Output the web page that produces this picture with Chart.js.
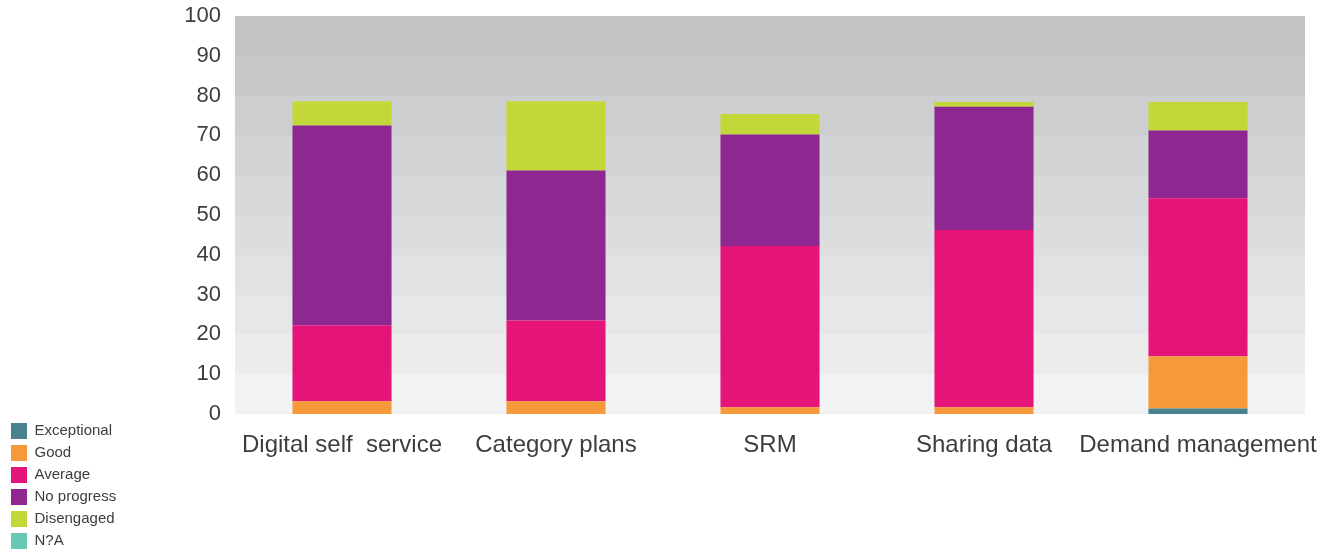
<!DOCTYPE html>
<html>
<head>
<meta charset="utf-8">
<script src="https://cdn.jsdelivr.net/npm/chart.js@4"></script>
<style>
  html, body { margin: 0; padding: 0; background: #fff; }
  #wrap { width: 1333px; height: 549px; position: relative; }
</style>
</head>
<body>
<div id="wrap"><canvas id="progress-chart"></canvas></div>
<script>
// categories along the x axis
const categories = ['Digital self  service', 'Category plans', 'SRM', 'Sharing data', 'Demand management'];

// series values, stacked from the bottom up
const exceptional = [0, 0, 0, 0, 1.4];
const good = [3.2, 3.2, 1.7, 1.7, 13.1];
const average = [19.1, 20.3, 40.5, 44.5, 39.7];
const noProgress = [50.2, 37.7, 28.0, 31.0, 17.0];
const disengaged = [6.1, 17.4, 5.2, 1.2, 7.2];
const notApplicable = [0, 0, 0, 0, 0];

// y axis ticks
const yTicks = [0, 10, 20, 30, 40, 50, 60, 70, 80, 90, 100];

// grey shading for each 10-point band, bottom band first
const bandColors = ['#f1f2f4', '#ececed', '#e6e7e9', '#e1e2e4', '#dcdddf',
                    '#d7d8da', '#d2d3d5', '#cdced0', '#c7c8ca', '#c2c3c5'];

// paint the horizontal bands behind the bars, snapped to whole pixels
const bandPlugin = {
  id: 'bands',
  beforeDatasetsDraw(chart) {
    const {ctx, chartArea, scales} = chart;
    const y = scales.y;
    const left = Math.round(chartArea.left);
    const right = Math.round(chartArea.right);
    ctx.save();
    for (let i = 0; i < yTicks.length - 1; i++) {
      const top = Math.round(y.getPixelForValue(yTicks[i + 1]));
      const bottom = Math.round(y.getPixelForValue(yTicks[i]));
      ctx.fillStyle = bandColors[i];
      ctx.fillRect(left, top, right - left, bottom - top);
    }
    ctx.restore();
  }
};

const series = [
  {label: 'Exceptional', data: exceptional, color: '#47828e'},
  {label: 'Good', data: good, color: '#f6993a'},
  {label: 'Average', data: average, color: '#e41479'},
  {label: 'No progress', data: noProgress, color: '#8e278f'},
  {label: 'Disengaged', data: disengaged, color: '#c3d838'},
  {label: 'N?A', data: notApplicable, color: '#69c7b5'}
];

const textColor = '#3d3d3d';
const fontFamily = '"Liberation Sans", Arial, Helvetica, sans-serif';

let barChart = new Chart(document.getElementById('progress-chart'), {
  type: 'bar',
  data: {
    labels: categories,
    datasets: series.map(s => ({
      label: s.label,
      data: s.data,
      backgroundColor: s.color,
      borderWidth: 0,
      categoryPercentage: 1,
      barPercentage: 0.463
    }))
  },
  options: {
    responsive: true,
    maintainAspectRatio: false,
    animation: false,
    layout: {padding: {left: 5, right: 28, top: 16, bottom: -6}},
    plugins: {
      tooltip: {enabled: false},
      legend: {
        position: 'left',
        align: 'end',
        labels: {
          boxWidth: 16,
          boxHeight: 16,
          padding: 6,
          color: textColor,
          font: {family: fontFamily, size: 15}
        }
      }
    },
    scales: {
      x: {
        stacked: true,
        grid: {display: false, drawTicks: false},
        border: {display: false},
        ticks: {
          color: textColor,
          padding: 17,
          maxRotation: 0,
          autoSkip: false,
          font: {family: fontFamily, size: 24}
        },
        afterFit(scale) {
          scale.height = 141;
          // labels may overhang the plot edges
          scale.paddingLeft = 0;
          scale.paddingRight = 0;
        }
      },
      y: {
        stacked: true,
        min: 0,
        max: 100,
        grid: {display: false, drawTicks: false},
        border: {display: false},
        afterBuildTicks(scale) {
          scale.ticks = yTicks.map(v => ({value: v}));
        },
        ticks: {
          color: textColor,
          padding: 14,
          font: {family: fontFamily, size: 22}
        },
        afterFit(scale) {
          const legend = scale.chart.legend;
          const legendWidth = legend ? legend.width : 0;
          scale.width = 235 - 5 - legendWidth;
          scale.paddingTop = 0;
          scale.paddingBottom = 0;
        }
      }
    }
  },
  plugins: [bandPlugin]
});
</script>
</body>
</html>
